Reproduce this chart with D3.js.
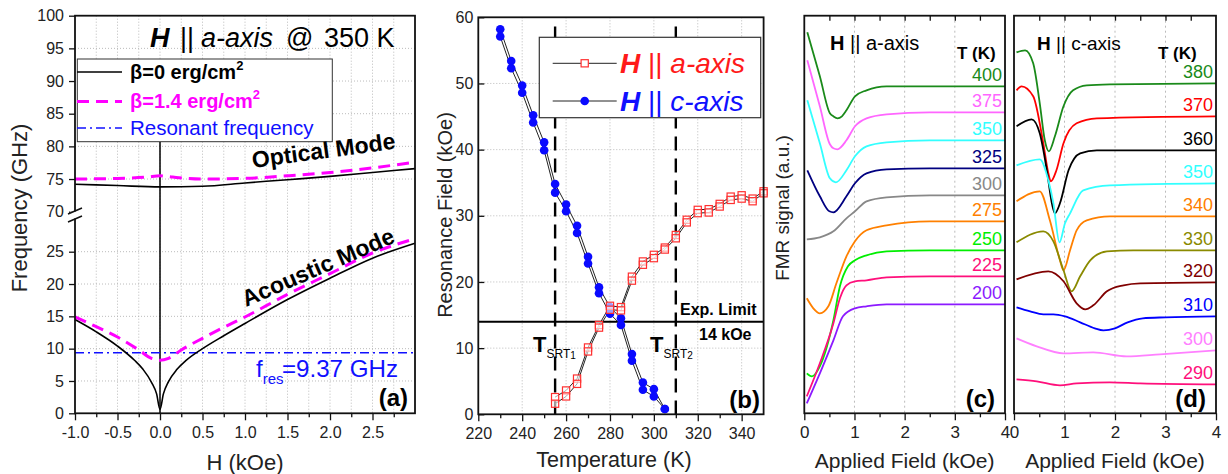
<!DOCTYPE html>
<html>
<head>
<meta charset="utf-8">
<script src="https://cdn.jsdelivr.net/npm/d3@7"></script>
<style>
  body { margin: 0; background: #fff; }
  text { font-family: "Liberation Sans", Arial, sans-serif; }
</style>
</head>
<body>
<svg id="fig" width="1228" height="474"></svg>
<script>
// ---------- (a) dispersion, H || a-axis @ 350 K ----------
const hOptB0 = [-1.0, -0.5, 0, 0.5, 1.0, 1.5, 2.0, 2.5, 3.0];
const optB0 = [74.2, 74.0, 73.8, 73.9, 74.4, 74.9, 75.4, 76.0, 76.6];
const hOptB14 = [-1.0, -0.5, -0.15, 0, 0.15, 0.5, 1.0, 1.5, 2.0, 2.5, 3.0];
const optB14 = [75.0, 75.1, 75.3, 75.5, 75.3, 75.0, 75.1, 75.5, 76.0, 76.7, 77.6];
const hAcoB0 = [-1.0, -0.75, -0.5, -0.3, -0.2, -0.1, -0.04, 0, 0.04, 0.1, 0.2, 0.3, 0.5, 0.75, 1.0, 1.5, 2.0, 2.5, 3.0];
const acoB0 = [14.5, 12.6, 10.4, 8.2, 6.8, 4.8, 3.0, 0.6, 3.0, 4.9, 6.8, 8.1, 10.0, 12.0, 13.9, 17.6, 20.9, 24.0, 26.3];
const hAcoB14 = [-1.0, -0.75, -0.5, -0.25, -0.1, 0, 0.1, 0.25, 0.5, 0.75, 1.0, 1.5, 2.0, 2.5, 3.0];
const acoB14 = [14.9, 13.4, 11.8, 9.8, 8.5, 8.2, 8.5, 9.8, 11.6, 13.3, 14.9, 18.4, 21.6, 24.8, 27.0];
const fRes = 9.37;
const freqTicksLow = [0, 5, 10, 15, 20, 25];
const freqTicksHigh = [70, 75, 80, 85, 90, 95, 100];

// ---------- (b) resonance field vs temperature ----------
const tempC = [230, 235, 240, 245, 250, 255, 260, 265, 270, 275, 280, 285, 290, 295, 300, 305];
const fieldC1 = [58.2, 53.4, 49.7, 45.2, 41.1, 34.8, 31.7, 28.5, 23.8, 19.2, 16.2, 14.5, 9.1, 4.8, 3.8, 0.8];
const fieldC2 = [57.1, 52.3, 48.6, 44.1, 39.9, 33.5, 30.7, 27.4, 22.8, 18.3, 15.2, 13.5, 8.1, 3.7, 2.7, 0.8];
const tempA = [255, 260, 265, 270, 275, 280, 285, 290, 295, 300, 305, 310, 315, 320, 325, 330, 335, 340, 345, 350];
const fieldA1 = [2.6, 3.6, 5.4, 10.1, 13.5, 16.4, 16.2, 20.8, 23.1, 24.1, 25.2, 27.1, 29.4, 30.9, 31.0, 31.8, 32.9, 33.1, 32.6, 33.7];
const fieldA2 = [1.6, 2.7, 4.6, 9.5, 13.1, 15.8, 15.7, 20.2, 22.6, 23.6, 24.9, 26.6, 29.0, 30.4, 30.5, 31.4, 32.4, 32.6, 32.2, 33.4];
const expLimit = 14;
const tSRT = [255, 310];

// ---------- (c) FMR spectra, H || a-axis : [field kOe, signal a.u.] ----------
const tempsAaxis = [400, 375, 350, 325, 300, 275, 250, 225, 200];
const spectraAaxis = [
  [[0.06,381],[0.31,337],[0.51,300],[0.58,297],[0.66,295],[0.75,297],[0.84,303],[1.01,317],[1.24,323],[1.64,327],[2.5,327],[4.0,327]],
  [[0.06,353],[0.31,307],[0.51,269],[0.58,265],[0.66,264],[0.84,273],[1.01,287],[1.24,295],[1.64,299],[2.5,301],[4.0,301]],
  [[0.06,313],[0.31,270],[0.51,235],[0.63,231],[0.84,243],[1.01,257],[1.24,267],[1.64,271],[2.5,273],[4.0,273]],
  [[0.06,243],[0.31,217],[0.5,202],[0.58,201],[0.84,217],[1.01,230],[1.24,240],[1.64,244],[2.5,245],[4.0,245]],
  [[0.05,174],[0.31,176],[0.58,182],[0.84,195],[1.01,202],[1.24,212],[1.64,216],[2.5,218],[4.0,218]],
  [[0.05,115],[0.18,105],[0.31,100],[0.48,107],[0.64,130],[0.84,157],[1.01,172],[1.24,183],[1.64,188],[2.5,192],[4.0,192]],
  [[0.05,40],[0.15,37],[0.31,47],[0.58,93],[0.71,127],[0.87,147],[1.01,153],[1.24,158],[1.64,162],[2.5,163],[4.0,163]],
  [[0.05,17],[0.31,50],[0.58,90],[0.71,115],[0.84,128],[1.01,132],[1.24,133],[1.64,136],[2.5,137],[4.0,137]],
  [[0.05,10],[0.31,40],[0.58,73],[0.77,97],[1.01,105],[1.24,107],[1.64,109],[2.5,109],[4.0,109]]
];
const colorsAaxis = ["#1a8a1a", "#ff66ff", "#33ffff", "#000080", "#888888", "#ff8000", "#00ee00", "#ff0f7b", "#8c1aff"];

// ---------- (d) FMR spectra, H || c-axis ----------
const tempsCaxis = [380, 370, 360, 350, 340, 330, 320, 310, 300, 290];
const spectraCaxis = [
  [[0.05,361],[0.22,363],[0.38,350],[0.51,310],[0.61,273],[0.69,262],[0.81,277],[0.98,307],[1.17,323],[1.44,328],[1.9,329],[4.0,330]],
  [[0.05,323],[0.15,327],[0.38,317],[0.58,270],[0.68,240],[0.73,232],[0.84,243],[0.98,270],[1.24,290],[1.64,295],[4.0,297]],
  [[0.05,287],[0.35,294],[0.51,280],[0.65,243],[0.75,210],[0.81,200],[0.91,210],[1.08,243],[1.31,260],[1.64,263],[4.0,263]],
  [[0.05,248],[0.51,254],[0.68,233],[0.78,210],[0.9,171],[1.01,190],[1.11,200],[1.37,223],[1.9,228],[4.0,230]],
  [[0.05,212],[0.51,222],[0.71,193],[0.91,153],[0.98,143],[1.11,163],[1.24,183],[1.44,193],[1.9,197],[4.0,197]],
  [[0.05,171],[0.58,182],[0.78,172],[0.98,143],[1.14,122],[1.31,137],[1.51,153],[1.84,162],[2.36,163],[4.0,163]],
  [[0.05,134],[0.68,142],[0.98,132],[1.24,110],[1.41,104],[1.57,108],[1.84,122],[2.17,128],[2.5,130],[4.0,131]],
  [[0.05,106],[0.32,102],[0.58,99],[0.78,99],[1.01,97],[1.31,91],[1.6,85],[1.77,83],[2.0,85],[2.25,91],[2.55,95],[3.0,96],[4.0,97]],
  [[0.05,75],[0.45,67],[0.98,60],[1.57,61],[2.23,57],[2.89,59],[4.0,63]],
  [[0.05,34],[0.45,32],[0.91,28],[1.24,30],[1.9,31],[2.5,30],[4.0,29]]
];
const colorsCaxis = ["#1a8a1a", "#ff0000", "#000000", "#33ffff", "#ff8000", "#8a8a00", "#800000", "#0000ff", "#ff80ff", "#ff0f7b"];
const fieldTicks = [0, 1, 2, 3, 4];

const svg = d3.select("#fig");

function cleanAxis(g, size) {
  g.select(".domain").remove();
  g.selectAll("text").style("font-size", size + "px").style("fill", "#222");
  g.selectAll("line").attr("stroke", "#111").attr("stroke-width", 1.3);
}

// ================= panel (a) =================
const xA = d3.scaleLinear().domain([-1, 3]).range([75, 415]);
const yAhi = d3.scaleLinear().domain([70, 100]).range([211.7, 15.7]);
const yAlo = d3.scaleLinear().domain([0, 25]).range([413.3, 251.7]);
const gA = svg.append("g");

gA.selectAll(".vgrid").data(d3.range(-0.75, 3, 0.25)).enter().append("line")
  .attr("x1", d => xA(d)).attr("x2", d => xA(d)).attr("y1", 15.7).attr("y2", 413.3)
  .attr("stroke", "#aaa").attr("stroke-width", 0.8).attr("stroke-dasharray", "1,2");
gA.selectAll(".hgridlo").data(freqTicksLow.slice(1)).enter().append("line")
  .attr("x1", 75).attr("x2", 415).attr("y1", d => yAlo(d)).attr("y2", d => yAlo(d))
  .attr("stroke", "#aaa").attr("stroke-width", 0.8).attr("stroke-dasharray", "1,2");
gA.selectAll(".hgridhi").data(freqTicksHigh.slice(1, -1)).enter().append("line")
  .attr("x1", 75).attr("x2", 415).attr("y1", d => yAhi(d)).attr("y2", d => yAhi(d))
  .attr("stroke", "#aaa").attr("stroke-width", 0.8).attr("stroke-dasharray", "1,2");

gA.append("g").attr("transform", "translate(0,413.3)")
  .call(d3.axisBottom(xA).tickValues(d3.range(-1, 2.51, 0.5)).tickFormat(d => d.toFixed(1)).tickSize(7).tickPadding(6))
  .call(g => cleanAxis(g, 16));
gA.append("g").attr("transform", "translate(0,413.3)")
  .call(d3.axisBottom(xA).tickValues(d3.range(-0.75, 3, 0.5)).tickFormat("").tickSize(4))
  .call(g => cleanAxis(g, 16));
gA.append("g").attr("transform", "translate(75,0)")
  .call(d3.axisLeft(yAlo).tickValues(freqTicksLow).tickSize(6).tickPadding(5))
  .call(g => cleanAxis(g, 16));
gA.append("g").attr("transform", "translate(75,0)")
  .call(d3.axisLeft(yAhi).tickValues(freqTicksHigh).tickSize(6).tickPadding(5))
  .call(g => cleanAxis(g, 16));

const lineA = d3.line().x(d => xA(d[0])).curve(d3.curveMonotoneX);
const zipA = (h, v) => h.map((x, i) => [x, v[i]]);

gA.append("line").attr("x1", xA(0)).attr("x2", xA(0)).attr("y1", yAlo(0)).attr("y2", 141.7)
  .attr("stroke", "#000").attr("stroke-width", 1.5);
gA.append("line").attr("x1", 75).attr("x2", 415).attr("y1", yAlo(fRes)).attr("y2", yAlo(fRes))
  .attr("stroke", "#1010ff").attr("stroke-width", 1.6).attr("stroke-dasharray", "9,4,2,4");

gA.append("path").datum(zipA(hAcoB0, acoB0)).attr("d", lineA.y(d => yAlo(d[1])))
  .attr("fill", "none").attr("stroke", "#000").attr("stroke-width", 1.6);
gA.append("path").datum(zipA(hAcoB14, acoB14)).attr("d", lineA.y(d => yAlo(d[1])))
  .attr("fill", "none").attr("stroke", "#ff00ff").attr("stroke-width", 3).attr("stroke-dasharray", "12,7");
gA.append("path").datum(zipA(hOptB0, optB0)).attr("d", lineA.y(d => yAhi(d[1])))
  .attr("fill", "none").attr("stroke", "#000").attr("stroke-width", 1.6);
gA.append("path").datum(zipA(hOptB14, optB14)).attr("d", lineA.y(d => yAhi(d[1])))
  .attr("fill", "none").attr("stroke", "#ff00ff").attr("stroke-width", 3).attr("stroke-dasharray", "12,7");

gA.append("rect").attr("x", 75).attr("y", 15.7).attr("width", 340).attr("height", 397.6)
  .attr("fill", "none").attr("stroke", "#111").attr("stroke-width", 1.8);
// axis break
gA.append("rect").attr("x", 70).attr("y", 211.5).attr("width", 10).attr("height", 7).attr("fill", "#fff");
gA.append("line").attr("x1", 68).attr("y1", 214).attr("x2", 82).attr("y2", 208).attr("stroke", "#111").attr("stroke-width", 1.5);
gA.append("line").attr("x1", 68).attr("y1", 222).attr("x2", 82).attr("y2", 216).attr("stroke", "#111").attr("stroke-width", 1.5);

// legend (a)
const legA = gA.append("g");
legA.append("rect").attr("x", 77.3).attr("y", 59).attr("width", 255).attr("height", 82.7)
  .attr("fill", "#fff").attr("stroke", "#333").attr("stroke-width", 1);
legA.append("line").attr("x1", 77).attr("x2", 122).attr("y1", 72).attr("y2", 72).attr("stroke", "#000").attr("stroke-width", 1.5);
legA.append("line").attr("x1", 77).attr("x2", 122).attr("y1", 101.5).attr("y2", 101.5).attr("stroke", "#ff00ff").attr("stroke-width", 3).attr("stroke-dasharray", "12,7");
legA.append("line").attr("x1", 77).attr("x2", 122).attr("y1", 128).attr("y2", 128).attr("stroke", "#1010ff").attr("stroke-width", 1.6).attr("stroke-dasharray", "9,4,2,4");
const lt1 = legA.append("text").attr("x", 130).attr("y", 79).style("font-size", "20px").style("font-weight", "bold").attr("fill", "#000");
lt1.append("tspan").text("β=0 erg/cm");
lt1.append("tspan").text("2").attr("dy", -9).style("font-size", "13px");
const lt2 = legA.append("text").attr("x", 130).attr("y", 108).style("font-size", "20px").style("font-weight", "bold").attr("fill", "#ff00ff");
lt2.append("tspan").text("β=1.4 erg/cm");
lt2.append("tspan").text("2").attr("dy", -9).style("font-size", "13px");
legA.append("text").attr("x", 130).attr("y", 135).style("font-size", "20.5px").attr("fill", "#1010ff").text("Resonant frequency");

// titles & labels (a)
const titleA = [["H", 150, "bold", "italic"], ["||", 180, "normal", "normal"], ["a-axis", 201, "normal", "italic"],
                ["@", 286, "normal", "normal"], ["350 K", 324, "normal", "normal"]];
titleA.forEach(([s, x, w, st]) => {
  gA.append("text").attr("x", x).attr("y", 47).style("font-size", "27px")
    .style("font-weight", w).style("font-style", st).text(s);
});
gA.append("text").attr("transform", "translate(253,168) rotate(-7.7)")
  .style("font-size", "23px").style("font-weight", "bold").text("Optical Mode");
gA.append("text").attr("transform", "translate(246,307) rotate(-23.4)")
  .style("font-size", "23px").style("font-weight", "bold").text("Acoustic Mode");
const fr = gA.append("text").attr("x", 256).attr("y", 377).style("font-size", "24px").attr("fill", "#1010ff");
fr.append("tspan").text("f");
fr.append("tspan").text("res").style("font-size", "15px").attr("dy", 7);
gA.append("text").attr("x", 282).attr("y", 377).style("font-size", "24px").attr("fill", "#1010ff")
  .attr("textLength", 116).attr("lengthAdjust", "spacingAndGlyphs").text("=9.37 GHz");
gA.append("text").attr("x", 408).attr("y", 406).attr("text-anchor", "end")
  .style("font-size", "24px").style("font-weight", "bold").text("(a)");
gA.append("text").attr("x", 245).attr("y", 470).attr("text-anchor", "middle").style("font-size", "22px").attr("fill", "#222").text("H (kOe)");
gA.append("text").attr("transform", "translate(27,208) rotate(-90)").attr("text-anchor", "middle")
  .style("font-size", "22px").attr("fill", "#222").text("Frequency (GHz)");

// ================= panel (b) =================
const xB = d3.scaleLinear().domain([220, 350]).range([478.3, 763.6]);
const yB = d3.scaleLinear().domain([0, 60]).range([414.3, 17.3]);
const gB = svg.append("g");

gB.selectAll(".vg").data(d3.range(240, 341, 20)).enter().append("line")
  .attr("x1", d => xB(d)).attr("x2", d => xB(d)).attr("y1", 17.3).attr("y2", 414.3)
  .attr("stroke", "#aaa").attr("stroke-width", 0.8).attr("stroke-dasharray", "1,2");
gB.selectAll(".hg").data(d3.range(10, 51, 10)).enter().append("line")
  .attr("x1", 478.3).attr("x2", 763.6).attr("y1", d => yB(d)).attr("y2", d => yB(d))
  .attr("stroke", "#aaa").attr("stroke-width", 0.8).attr("stroke-dasharray", "1,2");

gB.append("g").attr("transform", "translate(0,414.3)")
  .call(d3.axisBottom(xB).tickValues(d3.range(220, 341, 20)).tickSize(7).tickPadding(6))
  .call(g => cleanAxis(g, 16));
gB.append("g").attr("transform", "translate(0,414.3)")
  .call(d3.axisBottom(xB).tickValues(d3.range(230, 350, 20)).tickFormat("").tickSize(4))
  .call(g => cleanAxis(g, 16));
gB.append("g").attr("transform", "translate(478.3,0)")
  .call(d3.axisLeft(yB).tickValues(d3.range(0, 61, 10)).tickSize(-6).tickPadding(5))
  .call(g => cleanAxis(g, 16));

// SRT dashed lines & experimental limit
gB.selectAll(".srt").data(tSRT).enter().append("line")
  .attr("x1", d => xB(d)).attr("x2", d => xB(d)).attr("y1", 26.5).attr("y2", 414.3)
  .attr("stroke", "#000").attr("stroke-width", 2.4).attr("stroke-dasharray", "14,8");
gB.append("line").attr("x1", 478.3).attr("x2", 763.6).attr("y1", yB(expLimit)).attr("y2", yB(expLimit))
  .attr("stroke", "#000").attr("stroke-width", 2);

const lineB = d3.line().x(d => xB(d[0])).y(d => yB(d[1]));
[[tempA, fieldA1], [tempA, fieldA2], [tempC, fieldC1], [tempC, fieldC2]].forEach(([t, v]) => {
  gB.append("path").datum(t.map((x, i) => [x, v[i]])).attr("d", lineB)
    .attr("fill", "none").attr("stroke", "#222").attr("stroke-width", 1);
});
[fieldC1, fieldC2].forEach(v => {
  gB.selectAll(null).data(tempC.map((x, i) => [x, v[i]])).enter().append("circle")
    .attr("cx", d => xB(d[0])).attr("cy", d => yB(d[1])).attr("r", 4.3).attr("fill", "#0a0aff");
});
[fieldA1, fieldA2].forEach(v => {
  gB.selectAll(null).data(tempA.map((x, i) => [x, v[i]])).enter().append("rect")
    .attr("x", d => xB(d[0]) - 3.6).attr("y", d => yB(d[1]) - 3.6).attr("width", 7.2).attr("height", 7.2)
    .attr("fill", "#fff").attr("fill-opacity", 0.6).attr("stroke", "#ff3030").attr("stroke-width", 1.2);
});

gB.append("rect").attr("x", 478.3).attr("y", 17.3).attr("width", 285.3).attr("height", 397)
  .attr("fill", "none").attr("stroke", "#111").attr("stroke-width", 1.8);

// legend (b)
const legB = gB.append("g");
legB.append("rect").attr("x", 539.3).attr("y", 37.3).attr("width", 221.4).attr("height", 80.4)
  .attr("fill", "#fff").attr("stroke", "#333").attr("stroke-width", 1.2);
[63.3, 101].forEach((y, i) => {
  legB.append("line").attr("x1", 552.7).attr("x2", 616.7).attr("y1", y).attr("y2", y).attr("stroke", "#222").attr("stroke-width", 1);
  if (i === 0) {
    legB.append("rect").attr("x", 581.1).attr("y", y - 3.6).attr("width", 7.2).attr("height", 7.2)
      .attr("fill", "#fff").attr("stroke", "#ff3030").attr("stroke-width", 1.2);
  } else {
    legB.append("circle").attr("cx", 584.7).attr("cy", y).attr("r", 4.3).attr("fill", "#0a0aff");
  }
});
[["a-axis", "#ff1a1a", 73], ["c-axis", "#1010ff", 111]].forEach(([ax, col, y]) => {
  const t = legB.append("text").attr("x", 620).attr("y", y).style("font-size", "28px").attr("fill", col);
  t.append("tspan").text("H").style("font-weight", "bold").style("font-style", "italic");
  t.append("tspan").text(" || ");
  t.append("tspan").text(ax).style("font-style", "italic");
});

gB.append("text").attr("x", 680).attr("y", 315).style("font-size", "16px").style("font-weight", "bold").text("Exp. Limit");
gB.append("text").attr("x", 699).attr("y", 340).style("font-size", "16px").style("font-weight", "bold").text("14 kOe");
[["1", 533], ["2", 650]].forEach(([n, x]) => {
  const t = gB.append("text").attr("x", x).attr("y", 352).style("font-weight", "bold").style("font-size", "22px");
  t.append("tspan").text("T");
  t.append("tspan").text("SRT").style("font-size", "12px").style("font-weight", "normal").attr("dy", 6);
  t.append("tspan").text(n).style("font-size", "10px").style("font-weight", "normal").attr("dy", 1);
});
gB.append("text").attr("x", 760).attr("y", 408).attr("text-anchor", "end")
  .style("font-size", "24px").style("font-weight", "bold").text("(b)");
gB.append("text").attr("x", 614).attr("y", 467).attr("text-anchor", "middle").style("font-size", "21.5px").attr("fill", "#222").text("Temperature (K)");
gB.append("text").attr("transform", "translate(452,215) rotate(-90)").attr("text-anchor", "middle")
  .style("font-size", "20px").attr("fill", "#222").text("Resonance Field (kOe)");

// ================= panels (c) and (d) =================
function fmrPanel(x0, x1, temps, spectra, colors, header, headerX, headerSize, tkX, tag) {
  const xs = d3.scaleLinear().domain([0, 4]).range([x0, x1]);
  const ys = d3.scaleLinear().domain([0, 397.6]).range([413.3, 15.7]);
  const g = svg.append("g");
  g.selectAll(".vg").data([1, 2, 3]).enter().append("line")
    .attr("x1", d => xs(d)).attr("x2", d => xs(d)).attr("y1", 15.7).attr("y2", 413.3)
    .attr("stroke", "#aaa").attr("stroke-width", 0.8).attr("stroke-dasharray", "2,3");
  g.append("g").attr("transform", "translate(0,413.3)")
    .call(d3.axisBottom(xs).tickValues(fieldTicks).tickFormat(d3.format("d")).tickSize(7).tickPadding(6))
    .call(a => cleanAxis(a, 17));
  g.append("g").attr("transform", "translate(0,413.3)")
    .call(d3.axisBottom(xs).tickValues([0.5, 1.5, 2.5, 3.5]).tickFormat("").tickSize(4))
    .call(a => cleanAxis(a, 17));
  g.append("g").attr("transform", "translate(0,15.7)")
    .call(d3.axisTop(xs).tickValues(d3.range(0.5, 4, 0.5)).tickFormat("").tickSize(-5))
    .call(a => cleanAxis(a, 17));

  const line = d3.line().x(d => xs(d[0])).y(d => ys(d[1])).curve(d3.curveMonotoneX);
  spectra.forEach((s, i) => {
    g.append("path").datum(s).attr("d", line).attr("fill", "none")
      .attr("stroke", colors[i]).attr("stroke-width", 1.8);
    g.append("text").attr("x", x1 - 3).attr("y", ys(s[s.length - 1][1]) - 5).attr("text-anchor", "end")
      .style("font-size", "18px").attr("fill", colors[i]).text(temps[i]);
  });
  g.append("rect").attr("x", x0).attr("y", 15.7).attr("width", x1 - x0).attr("height", 397.6)
    .attr("fill", "none").attr("stroke", "#111").attr("stroke-width", 1.8);

  const h = g.append("text").attr("x", headerX).attr("y", 50).style("font-size", headerSize + "px");
  h.append("tspan").text("H").style("font-weight", "bold");
  h.append("tspan").text(" || " + header);
  g.append("text").attr("x", tkX).attr("y", 59).style("font-size", "17px").style("font-weight", "bold").text("T (K)");
  g.append("text").attr("x", x1 - 10).attr("y", 407).attr("text-anchor", "end")
    .style("font-size", "24px").style("font-weight", "bold").text(tag);
  g.append("text").attr("x", (x0 + x1) / 2).attr("y", 468).attr("text-anchor", "middle")
    .style("font-size", "21px").attr("fill", "#222").text("Applied Field (kOe)");
}

fmrPanel(804.3, 1005, tempsAaxis, spectraAaxis, colorsAaxis, "a-axis", 830, 20, 957, "(c)");
fmrPanel(1014, 1216, tempsCaxis, spectraCaxis, colorsCaxis, "c-axis", 1037, 19, 1158, "(d)");

svg.append("text").attr("transform", "translate(789,208) rotate(-90)").attr("text-anchor", "middle")
  .style("font-size", "19px").attr("fill", "#222").text("FMR signal (a.u.)");
</script>
</body>
</html>
